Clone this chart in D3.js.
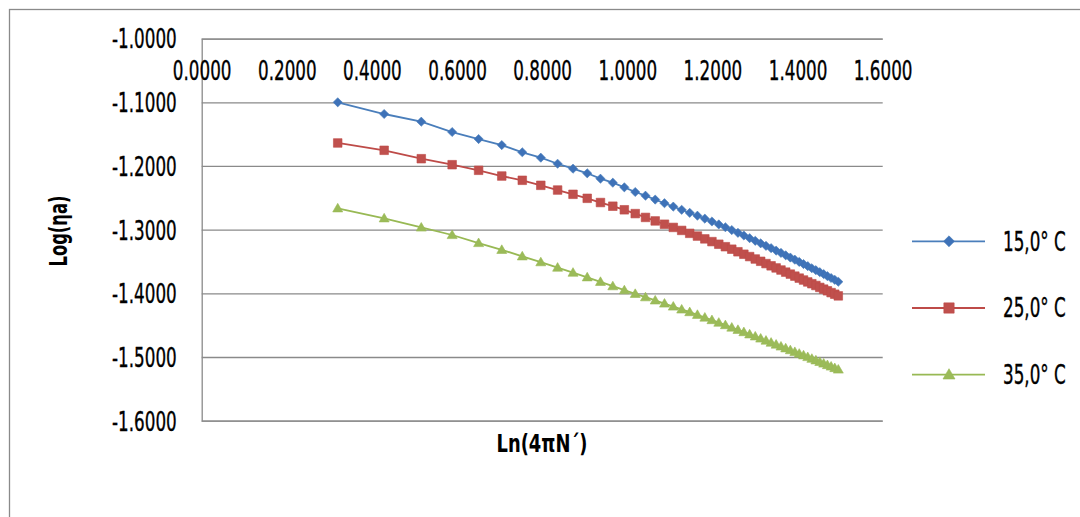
<!DOCTYPE html>
<html>
<head>
<meta charset="utf-8">
<script src="https://cdn.jsdelivr.net/npm/d3@7"></script>
<style>
  body { margin: 0; background: #fff; }
  svg text { font-family: "Liberation Sans Narrow", "DejaVu Sans Condensed", "DejaVu Sans", sans-serif; fill: #000; }
  .lbl { stroke: #000; stroke-width: 0.35px; }
</style>
</head>
<body>
<svg id="chart" width="1080" height="517"></svg>
<script>
// x = Ln(4πN´), same for all three series
var xValues = [0.3196, 0.4287, 0.5159, 0.5884, 0.6506, 0.7050, 0.7532, 0.7967, 0.8362, 0.8724,
  0.9058, 0.9369, 0.9659, 0.9930, 1.0186, 1.0427, 1.0655, 1.0873, 1.1080, 1.1277,
  1.1466, 1.1647, 1.1821, 1.1988, 1.2149, 1.2304, 1.2454, 1.2599, 1.2738, 1.2874,
  1.3006, 1.3133, 1.3258, 1.3378, 1.3496, 1.3610, 1.3721, 1.3830, 1.3936, 1.4039,
  1.4140, 1.4239, 1.4335, 1.4430, 1.4522, 1.4613, 1.4701, 1.4788, 1.4874, 1.4957];

var log15 = [-1.1000, -1.1184, -1.1305, -1.1467, -1.1577, -1.1672, -1.1785, -1.1870, -1.1965, -1.2043,
  -1.2115, -1.2200, -1.2263, -1.2335, -1.2409, -1.2467, -1.2528, -1.2585, -1.2638, -1.2688,
  -1.2736, -1.2781, -1.2827, -1.2872, -1.2918, -1.2962, -1.3006, -1.3050, -1.3092, -1.3134,
  -1.3175, -1.3215, -1.3254, -1.3291, -1.3329, -1.3365, -1.3403, -1.3438, -1.3472, -1.3507,
  -1.3540, -1.3573, -1.3606, -1.3637, -1.3668, -1.3698, -1.3730, -1.3759, -1.3788, -1.3818];

var log25 = [-1.1639, -1.1754, -1.1886, -1.1980, -1.2068, -1.2158, -1.2225, -1.2304, -1.2378, -1.2445,
  -1.2508, -1.2574, -1.2632, -1.2688, -1.2748, -1.2808, -1.2863, -1.2915, -1.2965, -1.3012,
  -1.3058, -1.3101, -1.3145, -1.3188, -1.3229, -1.3268, -1.3307, -1.3347, -1.3386, -1.3423,
  -1.3461, -1.3497, -1.3533, -1.3568, -1.3601, -1.3634, -1.3667, -1.3698, -1.3730, -1.3761,
  -1.3791, -1.3821, -1.3849, -1.3877, -1.3907, -1.3934, -1.3960, -1.3989, -1.4014, -1.4040];

var log35 = [-1.2665, -1.2822, -1.2966, -1.3084, -1.3210, -1.3317, -1.3419, -1.3511, -1.3596, -1.3675,
  -1.3748, -1.3819, -1.3888, -1.3951, -1.4008, -1.4061, -1.4111, -1.4160, -1.4207, -1.4253,
  -1.4295, -1.4337, -1.4380, -1.4420, -1.4460, -1.4499, -1.4537, -1.4573, -1.4609, -1.4644,
  -1.4676, -1.4709, -1.4742, -1.4774, -1.4804, -1.4834, -1.4863, -1.4892, -1.4920, -1.4947,
  -1.4973, -1.5000, -1.5027, -1.5052, -1.5077, -1.5102, -1.5126, -1.5149, -1.5173, -1.5196];

var seriesNames = ["15,0\u00b0 C", "25,0\u00b0 C", "35,0\u00b0 C"];
var xTicks = [0, 0.2, 0.4, 0.6, 0.8, 1.0, 1.2, 1.4, 1.6];
var yTicks = [-1.0, -1.1, -1.2, -1.3, -1.4, -1.5, -1.6];

var series = [
  {name: seriesNames[0], values: log15, line: "#4a7ebb", fill: "#3e72b8", shape: "diamond"},
  {name: seriesNames[1], values: log25, line: "#be4b48", fill: "#c0504d", shape: "square"},
  {name: seriesNames[2], values: log35, line: "#98b954", fill: "#9bbb59", shape: "triangle"}
];

var shapes = {
  diamond: "M0,-4.6L4.6,0L0,4.6L-4.6,0Z",
  square: "M-4.3,-4.3H4.3V4.3H-4.3Z",
  triangle: "M0,-5L5,3.6H-5Z"
};

var svg = d3.select("#chart");
var gridColor = "#8a8a8a";

// the chart font is a very narrow one, so squeeze whatever font we got
var probe = svg.append("text").style("font-size", "26px").text("0.0000");
var squeeze = 58.7 / probe.node().getComputedTextLength();
probe.remove();

// outer chart border (runs off the right and bottom of the picture)
svg.append("rect")
  .attr("x", 9.5).attr("y", 9.5)
  .attr("width", 1100).attr("height", 600)
  .attr("fill", "#fff")
  .attr("stroke", gridColor).attr("stroke-width", 1.3);

var xScale = d3.scaleLinear().domain([0, 1.6]).range([201.7, 882.7]);
var yScale = d3.scaleLinear().domain([-1.6, -1.0]).range([420.7, 38.6]);

// y axis with gridlines
var yAxis = svg.append("g")
  .attr("transform", "translate(" + xScale(0) + ",0)")
  .call(d3.axisLeft(yScale)
    .tickValues(yTicks)
    .tickSize(-(xScale(1.6) - xScale(0)))
    .tickFormat(function(d) { return d.toFixed(4); }));
yAxis.select(".domain").attr("stroke", gridColor).attr("stroke-width", 1.3);
yAxis.selectAll(".tick line").attr("stroke", gridColor).attr("stroke-width", 1.3);
yAxis.selectAll(".tick text")
  .attr("class", "lbl")
  .style("font-size", "26px")
  .attr("x", -25 / squeeze)
  .attr("dy", "0.36em")
  .attr("transform", "scale(" + squeeze + ",1)");

// x axis sits on top (crosses at -1.0), labels hang below it
var xAxis = svg.append("g")
  .attr("transform", "translate(0," + yScale(-1.0) + ")")
  .call(d3.axisBottom(xScale)
    .tickValues(xTicks)
    .tickSize(0)
    .tickFormat(function(d) { return d.toFixed(4); }));
xAxis.select(".domain").remove();
xAxis.selectAll(".tick text")
  .attr("class", "lbl")
  .style("font-size", "26px")
  .attr("y", 41).attr("dy", 0)
  .attr("transform", "scale(" + squeeze + ",1)");

// series lines + markers
var line = d3.line()
  .x(function(d) { return xScale(d[0]); })
  .y(function(d) { return yScale(d[1]); });

series.forEach(function(s) {
  var pts = xValues.map(function(x, i) { return [x, s.values[i]]; });
  svg.append("path")
    .datum(pts)
    .attr("d", line)
    .attr("fill", "none")
    .attr("stroke", s.line)
    .attr("stroke-width", 1.8);
  svg.append("g").selectAll("path")
    .data(pts)
    .enter().append("path")
      .attr("d", shapes[s.shape])
      .attr("transform", function(d) { return "translate(" + xScale(d[0]) + "," + yScale(d[1]) + ")"; })
      .attr("fill", s.fill)
      .attr("stroke", s.line)
      .attr("stroke-width", 0.6);
});

// move a title so its drawn box is centred on (cx, cy)
function centreOn(g, cx, cy, rot) {
  var r = g.node().getBoundingClientRect();
  var s = svg.node().getBoundingClientRect();
  var dx = cx - (r.left - s.left + r.width / 2);
  var dy = cy - (r.top - s.top + r.height / 2);
  g.attr("transform", "translate(" + dx + "," + dy + ")" + rot);
}

// axis titles, stretched to their width in the picture
var yTitle = svg.append("g").attr("transform", "rotate(-90)");
yTitle.append("text")
  .attr("text-anchor", "middle")
  .attr("textLength", 71).attr("lengthAdjust", "spacingAndGlyphs")
  .style("font-size", "24px").style("font-weight", "bold")
  .text("Log(\u03b7a)");
centreOn(yTitle, 59, 231, " rotate(-90)");

var xTitle = svg.append("g");
xTitle.append("text")
  .attr("text-anchor", "middle")
  .attr("textLength", 91).attr("lengthAdjust", "spacingAndGlyphs")
  .style("font-size", "24px").style("font-weight", "bold")
  .text("Ln(4\u03c0N\u00b4)");
centreOn(xTitle, 542, 444, "");

// legend
var legendY = d3.scaleBand().domain(seriesNames).range([208, 408]);
var legend = svg.append("g").selectAll("g")
  .data(series)
  .enter().append("g")
    .attr("transform", function(d) { return "translate(0," + (legendY(d.name) + legendY.bandwidth() / 2) + ")"; });
legend.append("line")
  .attr("x1", 912).attr("x2", 985)
  .attr("stroke", function(d) { return d.line; })
  .attr("stroke-width", 1.8);
legend.append("path")
  .attr("d", function(d) { return shapes[d.shape]; })
  .attr("transform", "translate(949,0) scale(1.2)")
  .attr("fill", function(d) { return d.fill; })
  .attr("stroke", function(d) { return d.line; })
  .attr("stroke-width", 0.5);
legend.append("text")
  .attr("class", "lbl")
  .attr("transform", "translate(1003,0) scale(" + squeeze + ",1)")
  .attr("dy", "0.36em")
  .style("font-size", "26px")
  .text(function(d) { return d.name; });
</script>
</body>
</html>
